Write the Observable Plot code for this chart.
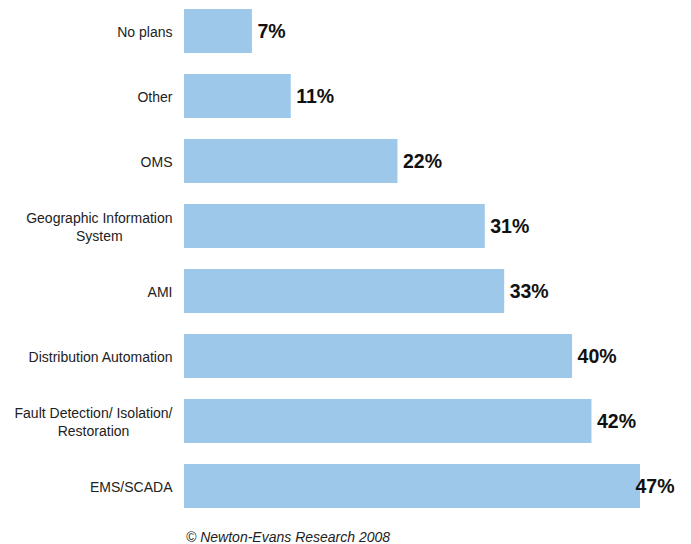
<!DOCTYPE html>
<html>
<head>
<meta charset="utf-8">
<script src="https://cdn.jsdelivr.net/npm/d3@7"></script>
<script src="https://cdn.jsdelivr.net/npm/@observablehq/plot@0.6"></script>
<style>
  html, body { margin: 0; padding: 0; background: #fff; }
  body { width: 691px; height: 544px; overflow: hidden; font-family: "Liberation Sans", Arial, sans-serif; }
  #caption { margin-top: 12px; padding-left: 186px; font-size: 14px; font-style: italic; line-height: 16px; color: #222; }
</style>
</head>
<body>
<div id="chart"></div>
<div id="caption">© Newton-Evans Research 2008</div>
<script>
const categories = [
  "No plans",
  "Other",
  "OMS",
  "Geographic Information\nSystem",
  "AMI",
  "Distribution Automation",
  "Fault Detection/ Isolation/\nRestoration",
  "EMS/SCADA"
];
const values = [7, 11, 22, 31, 33, 40, 42, 47];

const data = categories.map((c, i) => ({cat: c, value: values[i]}));
const maxVal = d3.max(values);

const chart = Plot.plot({
  width: 691,
  height: 517,
  marginLeft: 184,
  marginRight: 51,
  marginTop: 0,
  marginBottom: 0,
  style: {fontFamily: "Liberation Sans, Arial, sans-serif", background: "#fff", color: "#000"},
  x: {domain: [0, maxVal], axis: null},
  y: {domain: categories, paddingInner: 0.327, paddingOuter: 0.12, label: null},
  marks: [
    Plot.barX(data, {x: "value", y: "cat", fill: "#9dc8ea"}),
    Plot.axisY({tickSize: 0, tickPadding: 12, fontSize: 14, lineHeight: 1.3, label: null, fill: "#222"}),
    Plot.text(data.filter(d => d.value < maxVal), {
      x: "value", y: "cat", text: d => d.value + "%",
      textAnchor: "start", dx: 5, fontWeight: "bold", fontSize: 19.5, fill: "#111"
    }),
    Plot.text(data.filter(d => d.value === maxVal), {
      x: "value", y: "cat", text: d => d.value + "%",
      textAnchor: "start", dx: -5, fontWeight: "bold", fontSize: 19.5, fill: "#111"
    })
  ]
});
document.getElementById("chart").appendChild(chart);

// center multi-line category labels on their widest line
chart.querySelectorAll("g[aria-label='y-axis tick label'] text").forEach(t => {
  const spans = t.querySelectorAll("tspan");
  if (spans.length > 1) {
    let w = 0;
    spans.forEach(s => { w = Math.max(w, s.getComputedTextLength()); });
    t.setAttribute("text-anchor", "middle");
    spans.forEach(s => s.setAttribute("x", -w / 2));
  }
});
</script>
</body>
</html>
